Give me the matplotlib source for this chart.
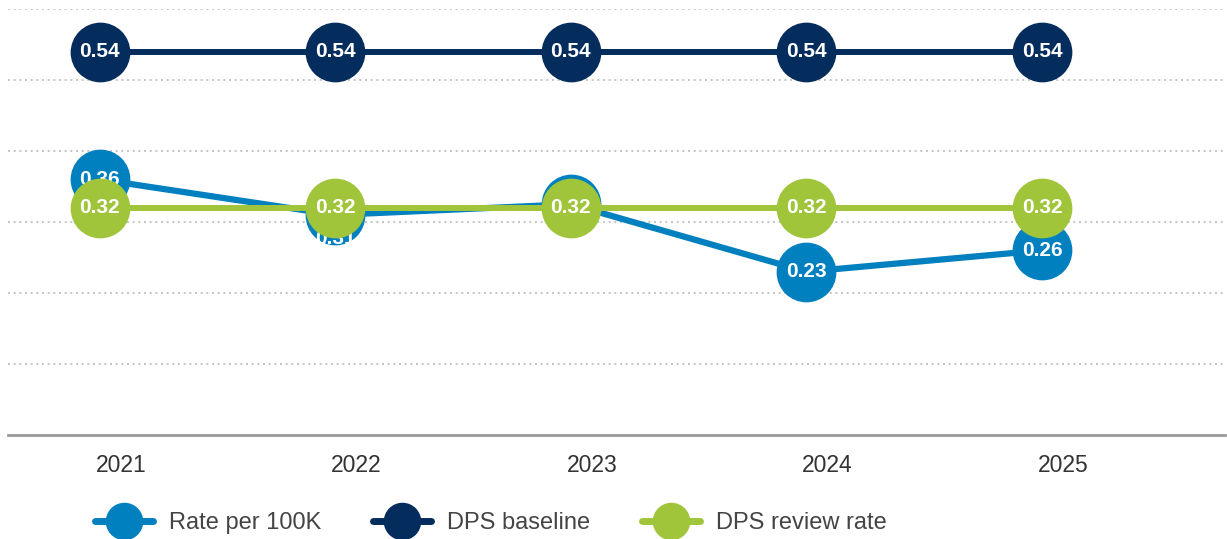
import matplotlib
matplotlib.use("Agg")
import matplotlib.pyplot as plt
from matplotlib.lines import Line2D
from matplotlib.transforms import ScaledTranslation
import numpy as np

plt.rcParams['font.family'] = ['Liberation Sans', 'DejaVu Sans']

years = ["2021", "2022", "2023", "2024", "2025"]
rate = [0.36, 0.31, 0.325, 0.23, 0.26]
rate_labels = ["0.36", "0.31", "0.33", "0.23", "0.26"]
baseline = [0.54, 0.54, 0.54, 0.54, 0.54]
review = [0.32, 0.32, 0.32, 0.32, 0.32]
series_names = ["Rate per 100K", "DPS baseline", "DPS review rate"]

c_rate = "#0080BF"
c_base = "#042C5C"
c_rev = "#A0C53B"

fig = plt.figure(figsize=(12.27, 5.39), dpi=100)
ax = fig.add_axes([8/1227, 1-435/539, (1225-8)/1227, (435-9)/539])
x = np.arange(len(years))

# rate line + labels
ax.plot(x, rate, color=c_rate, lw=4.5, marker='o', ms=42, zorder=3)
for i, v in enumerate(rate):
    gap = review[i] - v
    if abs(gap) < 0.01:
        continue  # fully hidden behind the review marker
    dy = -0.033 if 0 < gap < 0.03 else 0  # push label down when partly hidden
    ax.text(x[i], v + dy, rate_labels[i], color='white', fontsize=15, fontweight='bold',
            ha='center', va='center', zorder=4)

ax.plot(x, review, color=c_rev, lw=4.3, marker='o', ms=42, zorder=5)
for i, v in enumerate(review):
    ax.text(x[i], v, f"{v:.2f}", color='white', fontsize=15, fontweight='bold',
            ha='center', va='center', zorder=6)

ax.plot(x, baseline, color=c_base, lw=4.3, marker='o', ms=42, zorder=5)
for i, v in enumerate(baseline):
    ax.text(x[i], v, f"{v:.2f}", color='white', fontsize=15, fontweight='bold',
            ha='center', va='center', zorder=6)

ax.set_xlim(-0.39, 4.777)
ax.set_ylim(0, 0.6)
ax.set_yticks([0.1, 0.2, 0.3, 0.4, 0.5, 0.6])
ax.yaxis.grid(True, color='#bbbbbb', lw=1.2, linestyle=(0, (1.2, 2.2)))
ax.set_axisbelow(True)
ax.tick_params(axis='y', left=False, labelleft=False)
ax.set_xticks(x)
ax.set_xticklabels(years, fontsize=16.5, color='#333333')
ax.tick_params(axis='x', length=0, pad=14)
shift = ScaledTranslation(21/100, 0, fig.dpi_scale_trans)
for lab in ax.get_xticklabels():
    lab.set_transform(lab.get_transform() + shift)
for s in ['top', 'right', 'left']:
    ax.spines[s].set_visible(False)
ax.spines['bottom'].set_color('#999999')
ax.spines['bottom'].set_linewidth(2)

handles = [Line2D([], [], color=c, lw=5, marker='o', ms=26, solid_capstyle='round')
           for c in [c_rate, c_base, c_rev]]
fig.legend(handles, series_names, loc='center left', bbox_to_anchor=(95/1227, 1-523/539),
           ncol=3, frameon=False, fontsize=17, handlelength=2.45, handletextpad=0.68,
           columnspacing=2.2, borderpad=0, borderaxespad=0, labelcolor='#444444')

fig.savefig("out.png", dpi=100)
